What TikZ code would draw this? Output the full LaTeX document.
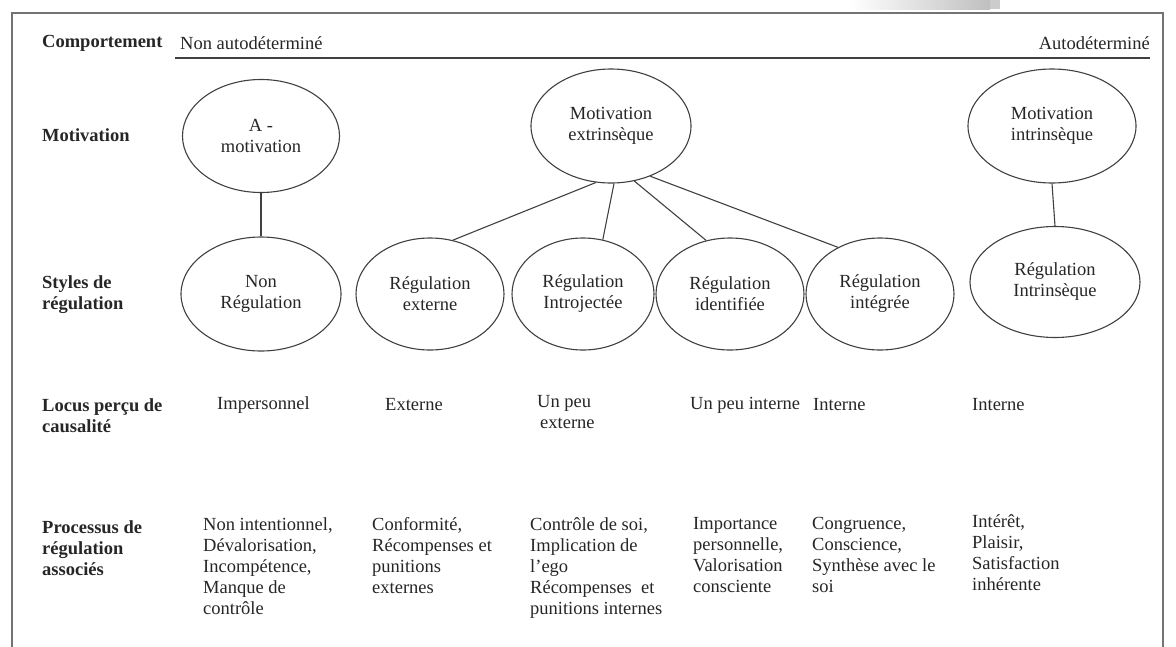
\documentclass[tikz,border=0pt]{standalone}
\usepackage{fontspec}
\setmainfont{Liberation Serif}
\usetikzlibrary{shapes.geometric}
\begin{document}
\begin{tikzpicture}[x=1pt,y=-1pt,
  txt/.style={font=\fontsize{18.5}{21}\selectfont, inner sep=0pt, align=left, anchor=west, text=black!85},
  lbl/.style={txt, font=\fontsize{18.5}{21}\selectfont\bfseries},
  ell/.style={draw=black!75, line width=1.1pt, ellipse, inner sep=0pt, align=center, font=\fontsize{18.5}{21}\selectfont, text=black!85},
  conn/.style={draw=black!75, line width=1.1pt}
]
\useasboundingbox (0,0) rectangle (1176,646);
\clip (0,0) rectangle (1176,646);
% shadow at top right
\shade[left color=white, right color=black!25] (850,0) rectangle (990,9);
\fill[black!20] (990,0) rectangle (1000,9);
% frame
\draw[black!55, line width=2pt] (12,13) rectangle (1163,700);
% header
\node[lbl] (comp) at (42,43) {Comportement};
\node[txt] (nonauto) at (180,43) {Non autodéterminé};
\node[txt, anchor=east] (auto) at (1150,43) {Autodéterminé};
\coordinate (hl) at (175,58);
\coordinate (hr) at (1150,58);
\draw[black!75, line width=1.4pt] (hl) -- (hr);
% row labels
\node[lbl] (lmot) at (42,135) {Motivation};
\node[lbl] (lsty) at (42,295) {Styles de\\régulation};
\node[lbl] (lloc) at (42,416) {Locus perçu de\\causalité};
\node[lbl] (lpro) at (42,548) {Processus de\\régulation\\associés};
% motivation ellipses
\node[ell, minimum width=157pt, minimum height=113pt] (amot) at (261,136) {A -\\motivation};
\node[ell, minimum width=160pt, minimum height=114pt] (mext) at (611,126) {Motivation\\extrinsèque};
\node[ell, minimum width=168pt, minimum height=114pt] (mint) at (1052,126) {Motivation\\intrinsèque};
% regulation ellipses
\node[ell, minimum width=160pt, minimum height=114pt] (nreg) at (261,294) {Non\\Régulation};
\node[ell, minimum width=148pt, minimum height=112pt] (rext) at (430,294) {Régulation\\externe};
\node[ell, minimum width=142pt, minimum height=112pt] (rintro) at (583,294) {Régulation\\Introjectée};
\node[ell, minimum width=148pt, minimum height=112pt] (rid) at (730,294) {Régulation\\identifiée};
\node[ell, minimum width=148pt, minimum height=112pt] (rinteg) at (880,294) {Régulation\\intégrée};
\node[ell, minimum width=170pt, minimum height=111pt] (rintr) at (1055,282) {Régulation\\Intrinsèque};
% connectors
\draw[conn] (amot.south) -- (nreg.north);
\draw[conn] (mint.south) -- (rintr.north);
\draw[conn] (mext.255) -- (rext.67);
\draw[conn] (mext.273) -- (rintro.70);
\draw[conn] (mext.293) -- (rid.114);
\draw[conn] (mext.308) -- (rinteg.132);
% locus row
\node[txt] (l1) at (217,405) {Impersonnel};
\node[txt] (l2) at (385,405) {Externe};
\node[txt] (l3) at (537,412) {Un peu\\\hspace*{3pt}externe};
\node[txt] (l4) at (690,405) {Un peu interne};
\node[txt] (l5) at (813,405) {Interne};
\node[txt] (l6) at (972,405) {Interne};
% processus row
\node[txt, anchor=north west] (p1) at (203,517) {Non intentionnel,\\Dévalorisation,\\Incompétence,\\Manque de\\contrôle};
\node[txt, anchor=north west] (p2) at (372,517) {Conformité,\\Récompenses et\\punitions\\externes};
\node[txt, anchor=north west] (p3) at (530,517) {Contrôle de soi,\\Implication de\\l’ego\\Récompenses\ \ et\\punitions internes};
\node[txt, anchor=north west] (p4) at (693,517) {Importance\\personnelle,\\Valorisation\\consciente};
\node[txt, anchor=north west] (p5) at (812,517) {Congruence,\\Conscience,\\Synthèse avec le\\soi};
\node[txt, anchor=north west] (p6) at (972,514) {Intérêt,\\Plaisir,\\Satisfaction\\inhérente};
\end{tikzpicture}
\end{document}
